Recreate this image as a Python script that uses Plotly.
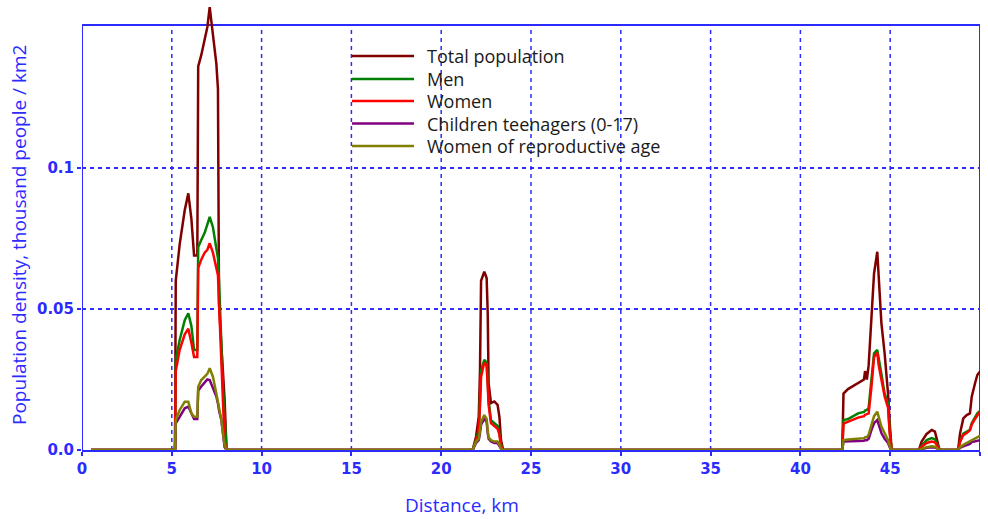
import plotly.graph_objects as go

# ---------------- data ----------------
distance_km = [
    0.5, 5.18, 5.22, 5.44, 5.72, 5.92, 6.09, 6.24, 6.42, 6.47, 6.64, 6.83, 6.98, 7.11, 7.29, 7.48, 7.57, 7.63, 7.76, 7.85, 7.94, 8.05, 8.12,
    21.75, 21.94, 22.09, 22.16, 22.22, 22.40, 22.53, 22.59, 22.64, 22.77, 22.96, 23.14, 23.24, 23.33, 23.45,
    42.33, 42.40, 42.65, 43.21, 43.54, 43.60, 43.70, 43.80, 43.95, 44.10, 44.28, 44.36, 44.51, 44.69, 44.88, 44.97, 45.08,
    46.60, 46.75, 47.03, 47.31, 47.49, 47.62, 47.75,
    48.78, 48.89, 49.07, 49.26, 49.44, 49.54, 49.72, 49.85, 50.0,
]

total_population = [
    0, 0, 0.060, 0.073, 0.085, 0.091, 0.082, 0.069, 0.069, 0.136, 0.140, 0.146, 0.150, 0.157, 0.147, 0.137, 0.128, 0.052, 0.037, 0.028, 0.018, 0, 0,
    0, 0.0047, 0.0118, 0.028, 0.060, 0.0632, 0.061, 0.0485, 0.0237, 0.0166, 0.0172, 0.016, 0.0118, 0.0035, 0,
    0, 0.020, 0.0216, 0.0236, 0.025, 0.028, 0.025, 0.030, 0.047, 0.0626, 0.0703, 0.0616, 0.045, 0.0343, 0.020, 0.010, 0,
    0, 0.003, 0.0057, 0.0071, 0.0065, 0.0035, 0,
    0, 0.0059, 0.0112, 0.0124, 0.0130, 0.0189, 0.0236, 0.0266, 0.0278,
]

men = [
    0, 0, 0.032, 0.039, 0.046, 0.0485, 0.044, 0.0355, 0.0355, 0.072, 0.0745, 0.077, 0.080, 0.0827, 0.079, 0.072, 0.068, 0.060, 0.034, 0.022, 0.012, 0, 0,
    0, 0.0035, 0.007, 0.018, 0.028, 0.032, 0.031, 0.024, 0.0177, 0.0106, 0.0095, 0.0085, 0.006, 0.002, 0,
    0, 0.0106, 0.011, 0.013, 0.0135, 0.014, 0.0142, 0.015, 0.0258, 0.0343, 0.0355, 0.032, 0.027, 0.020, 0.0166, 0.0071, 0,
    0, 0.0015, 0.0035, 0.0042, 0.0038, 0.002, 0,
    0, 0.003, 0.0058, 0.0065, 0.0072, 0.0095, 0.0115, 0.013, 0.0138,
]

women = [
    0, 0, 0.028, 0.0355, 0.041, 0.043, 0.038, 0.033, 0.033, 0.0645, 0.0675, 0.070, 0.071, 0.0733, 0.070, 0.065, 0.062, 0.052, 0.030, 0.014, 0.003, 0, 0,
    0, 0.003, 0.006, 0.016, 0.026, 0.031, 0.030, 0.023, 0.016, 0.0095, 0.0085, 0.0075, 0.0055, 0.0015, 0,
    0, 0.0094, 0.0100, 0.0115, 0.012, 0.0125, 0.0127, 0.013, 0.022, 0.033, 0.0345, 0.030, 0.025, 0.019, 0.015, 0.006, 0,
    0, 0.0012, 0.0025, 0.0030, 0.0027, 0.0015, 0,
    0, 0.0029, 0.0053, 0.006, 0.007, 0.0090, 0.0110, 0.0124, 0.0136,
]

children_teenagers = [
    0, 0, 0.0094, 0.012, 0.0148, 0.0154, 0.013, 0.011, 0.011, 0.021, 0.0225, 0.024, 0.025, 0.0248, 0.0218, 0.019, 0.0165, 0.014, 0.0106, 0.006, 0.001, 0, 0,
    0, 0.0025, 0.0035, 0.006, 0.009, 0.011, 0.010, 0.006, 0.004, 0.003, 0.0025, 0.0025, 0.0015, 0.0004, 0,
    0, 0.003, 0.003, 0.0032, 0.0033, 0.0035, 0.0035, 0.004, 0.007, 0.0095, 0.0106, 0.009, 0.006, 0.004, 0.0025, 0.001, 0,
    0, 0.0003, 0.0008, 0.0010, 0.0009, 0.0005, 0,
    0, 0.0008, 0.0013, 0.0018, 0.0022, 0.0028, 0.003, 0.0033, 0.0035,
]

women_reproductive = [
    0, 0, 0.0106, 0.0142, 0.0171, 0.0171, 0.013, 0.0118, 0.0118, 0.0224, 0.0248, 0.026, 0.027, 0.029, 0.026, 0.020, 0.017, 0.015, 0.0106, 0.006, 0.002, 0, 0,
    0, 0.003, 0.004, 0.007, 0.010, 0.0124, 0.011, 0.007, 0.0045, 0.0035, 0.003, 0.003, 0.002, 0.0005, 0,
    0, 0.0035, 0.0037, 0.004, 0.0042, 0.0045, 0.0045, 0.0055, 0.009, 0.012, 0.0136, 0.012, 0.0083, 0.006, 0.0035, 0.0015, 0,
    0, 0.0004, 0.0010, 0.0013, 0.0012, 0.0006, 0,
    0, 0.0010, 0.0018, 0.0025, 0.003, 0.0035, 0.004, 0.0045, 0.005,
]

series_names = ["Total population", "Men", "Women", "Children teenagers (0-17)", "Women of reproductive age"]
series_values = [total_population, men, women, children_teenagers, women_reproductive]
series_colors = ["#800000", "#008000", "#ff0000", "#800080", "#808000"]

x_ticks = [0, 5, 10, 15, 20, 25, 30, 35, 40, 45, 50]
y_ticks = [0.0, 0.05, 0.1]
y_tick_labels = ["0.0", "0.05", "0.1"]
frame_top = 0.1507

# ---------------- figure ----------------
W, H = 988, 519
ML, MR, MT, MB = 82, 8, 4, 69
PW, PH = W - ML - MR, H - MT - MB
BLUE = "#2b2bff"

def px_x(px):
    return (px - ML) / PW

def px_y(py):
    return (H - MB - py) / PH

fig = go.Figure()
for name, vals, col in zip(series_names, series_values, series_colors):
    fig.add_trace(go.Scatter(x=distance_km, y=vals, mode="lines", name=name,
                             line=dict(color=col, width=2.5), showlegend=False))

shapes = []
# vertical dotted grid lines (stop at the frame top)
for xv in x_ticks[1:-1]:
    shapes.append(dict(type="line", xref="x", yref="y", x0=xv, x1=xv, y0=0, y1=frame_top,
                       line=dict(color=BLUE, width=1.5, dash="4px,4px"), layer="below"))
# frame (left, top, right)
shapes.append(dict(type="line", xref="x", yref="y", x0=0, x1=0, y0=0, y1=frame_top,
                   line=dict(color=BLUE, width=2), layer="below"))
shapes.append(dict(type="line", xref="x", yref="y", x0=0, x1=50, y0=frame_top, y1=frame_top,
                   line=dict(color=BLUE, width=2), layer="below"))
shapes.append(dict(type="line", xref="x", yref="y", x0=50, x1=50, y0=0, y1=frame_top,
                   line=dict(color=BLUE, width=2), layer="below"))

# legend drawn manually
annotations = []
legend_rows = [56, 79, 101, 123.5, 146]
for name, col, ry in zip(series_names, series_colors, legend_rows):
    shapes.append(dict(type="line", xref="paper", yref="paper",
                       x0=px_x(352), x1=px_x(414), y0=px_y(ry), y1=px_y(ry),
                       line=dict(color=col, width=2.5)))
    annotations.append(dict(xref="paper", yref="paper", x=px_x(425), y=px_y(ry),
                            text=name, showarrow=False, xanchor="left", yanchor="middle",
                            font=dict(family="Open Sans", size=18, color="#1a1a1a")))

# axis titles
annotations.append(dict(xref="paper", yref="paper", x=px_x(462), y=px_y(505),
                        text="Distance, km", showarrow=False, xanchor="center", yanchor="middle",
                        font=dict(family="Open Sans", size=19, color=BLUE)))
annotations.append(dict(xref="paper", yref="paper", x=px_x(19), y=px_y(235),
                        text="Population density, thousand people / km2", showarrow=False,
                        textangle=-90, xanchor="center", yanchor="middle",
                        font=dict(family="Open Sans", size=19, color=BLUE)))

fig.update_layout(
    width=W, height=H,
    margin=dict(l=ML, r=MR, t=MT, b=MB, pad=0),
    paper_bgcolor="white", plot_bgcolor="white",
    showlegend=False,
    shapes=shapes, annotations=annotations,
    xaxis=dict(range=[0, 50], tickvals=x_ticks, showgrid=False, zeroline=False,
               showline=True, linecolor=BLUE, linewidth=2,
               ticks="outside", ticklen=4, tickcolor=BLUE, tickwidth=1.5,
               tickfont=dict(family="DejaVu Sans", size=15, color=BLUE, weight="bold")),
    yaxis=dict(range=[0, PH / 141 * 0.05], tickvals=y_ticks, ticktext=y_tick_labels,
               showgrid=True, gridcolor=BLUE, gridwidth=1.5, griddash="4px,4px",
               zeroline=False, showline=False,
               ticks="outside", ticklen=4, tickcolor=BLUE, tickwidth=1.5,
               tickfont=dict(family="DejaVu Sans", size=15, color=BLUE, weight="bold")),
)

fig.write_html("out.html")
